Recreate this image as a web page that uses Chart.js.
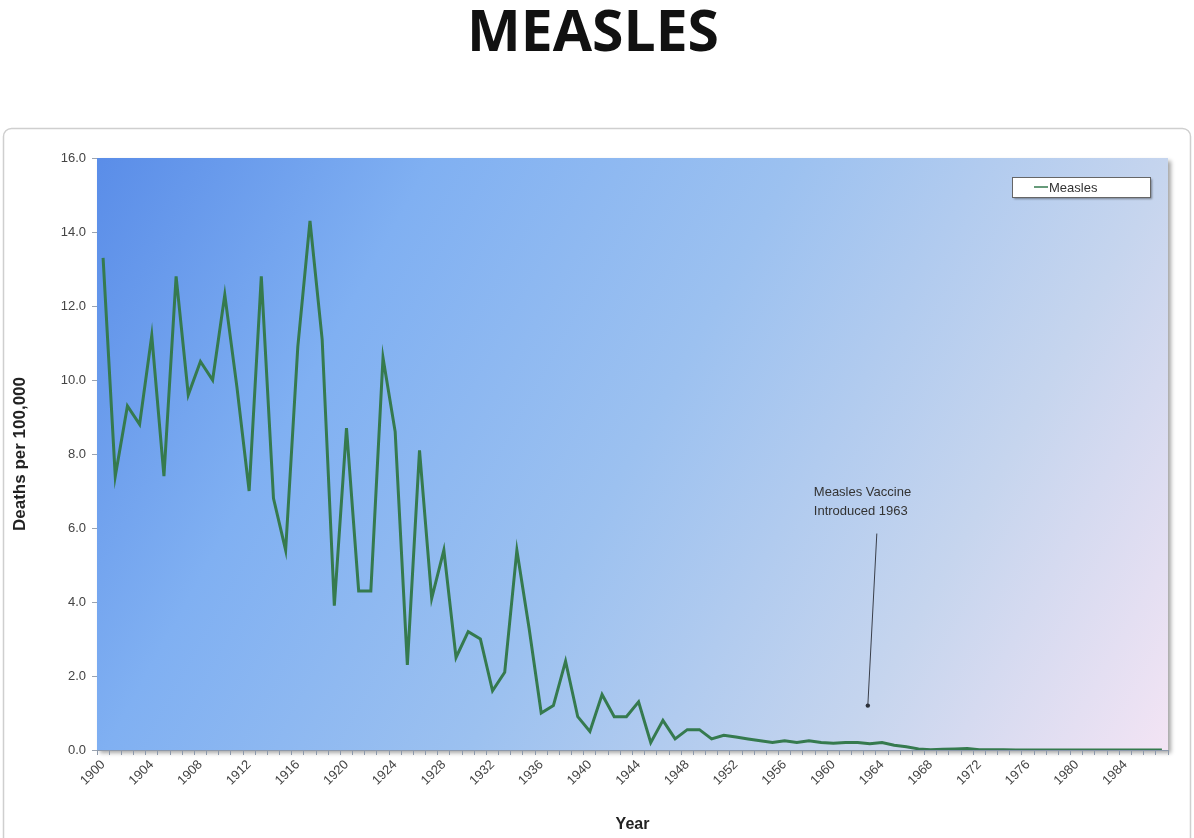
<!DOCTYPE html>
<html>
<head>
<meta charset="utf-8">
<title>Measles</title>
<script src="https://cdn.jsdelivr.net/npm/chart.js@4.4.1/dist/chart.umd.min.js"></script>
<style>
    html, body { margin: 0; padding: 0; background: #fff; }
</style>
</head>
<body>
<canvas id="measlesChart" width="1194" height="838"></canvas>
<script>
// Years on the category axis, one per data point
const YEARS = Array.from({ length: 88 }, (_, i) => String(1900 + i));

// Deaths per 100,000 (1900 - 1987)
const MEASLES_DEATHS = [
    13.3, 7.4, 9.3, 8.8, 11.2, 7.4, 12.8, 9.6, 10.5, 10.0,
    12.3, 9.8, 7.0, 12.8, 6.8, 5.4, 10.9, 14.3, 11.1, 3.9,
    8.7, 4.3, 4.3, 10.6, 8.6, 2.3, 8.1, 4.1, 5.4, 2.5,
    3.2, 3.0, 1.6, 2.1, 5.4, 3.3, 1.0, 1.2, 2.4, 0.9,
    0.5, 1.5, 0.9, 0.9, 1.3, 0.2, 0.8, 0.3, 0.55, 0.55,
    0.3, 0.4, 0.35, 0.3, 0.25, 0.2, 0.25, 0.2, 0.25, 0.2,
    0.18, 0.2, 0.2, 0.17, 0.2, 0.13, 0.09, 0.03, 0.01, 0.02,
    0.03, 0.04, 0.01, 0.01, 0.01, 0, 0, 0, 0, 0,
    0, 0, 0, 0, 0, 0, 0, 0
];

const CHART_TITLE = 'MEASLES';
const SERIES_NAME = 'Measles';
const LABEL_EVERY = 4;          // show every 4th year under the axis
const Y_MIN = 0;
const Y_MAX = 16;
const Y_STEP = 2;

// Annotation: vaccine introduction
const NOTE_YEAR = '1963';
const NOTE_LINES = ['Measles Vaccine', 'Introduced 1963'];
const NOTE_TIP_VALUE = 1.2;
const NOTE_TAIL_VALUE = 5.85;
const NOTE_TEXT_VALUE = 6.97;

const TICK_FONT = { family: '"Liberation Sans", Arial, sans-serif', size: 13 };

// Page title, frame round the chart and the gradient behind the plot area
const backdropPlugin = {
    id: 'backdrop',
    beforeDraw(chart) {
        const ctx = chart.ctx;
        const area = chart.chartArea;
        ctx.save();

        // big title above the frame
        ctx.fillStyle = '#111';
        ctx.font = 'bold 57px "Open Sans", sans-serif';
        ctx.textAlign = 'center';
        ctx.textBaseline = 'middle';
        ctx.fillText(CHART_TITLE, 593, 35);

        // outer frame
        ctx.strokeStyle = '#cfcfcf';
        ctx.lineWidth = 1.5;
        ctx.beginPath();
        ctx.roundRect(3.5, 128.5, chart.width - 7, chart.height, 8);
        ctx.stroke();

        // plot area with soft shadow
        const grad = ctx.createLinearGradient(area.left, area.top, area.right, area.bottom);
        grad.addColorStop(0, 'rgb(90,141,232)');
        grad.addColorStop(0.24, 'rgb(128,176,242)');
        grad.addColorStop(0.5, 'rgb(156,193,240)');
        grad.addColorStop(0.77, 'rgb(198,213,238)');
        grad.addColorStop(1, 'rgb(243,228,244)');
        ctx.shadowColor = 'rgba(0,0,0,0.35)';
        ctx.shadowBlur = 4;
        ctx.shadowOffsetX = 3;
        ctx.shadowOffsetY = 3;
        ctx.fillStyle = grad;
        ctx.fillRect(area.left, area.top, area.right - area.left, area.bottom - area.top);
        ctx.restore();
    }
};

// Boxed legend inside the plot, top right
const boxLegendPlugin = {
    id: 'boxLegend',
    afterDraw(chart) {
        const ctx = chart.ctx;
        const area = chart.chartArea;
        const ds = chart.data.datasets[0];
        const w = 138, h = 20;
        const x = area.right - 18 - w;
        const y = area.top + 19;
        ctx.save();
        ctx.shadowColor = 'rgba(0,0,0,0.4)';
        ctx.shadowBlur = 2;
        ctx.shadowOffsetX = 2;
        ctx.shadowOffsetY = 2;
        ctx.fillStyle = '#fff';
        ctx.fillRect(x, y, w, h);
        ctx.shadowColor = 'transparent';
        ctx.strokeStyle = '#666';
        ctx.lineWidth = 1;
        ctx.strokeRect(x + 0.5, y + 0.5, w, h);

        ctx.strokeStyle = ds.borderColor;
        ctx.lineWidth = 1.5;
        ctx.beginPath();
        ctx.moveTo(x + 22, y + h / 2);
        ctx.lineTo(x + 36, y + h / 2);
        ctx.stroke();

        ctx.fillStyle = '#333';
        ctx.font = '13px "Liberation Sans", Arial, sans-serif';
        ctx.textBaseline = 'middle';
        ctx.fillText(ds.label, x + 37, y + h / 2 + 1);
        ctx.restore();
    }
};

// Text and arrow pointing at the vaccine year
const notePlugin = {
    id: 'vaccineNote',
    afterDatasetsDraw(chart) {
        const ctx = chart.ctx;
        const xs = chart.scales.x;
        const ys = chart.scales.y;
        const xi = xs.getPixelForValue(YEARS.indexOf(NOTE_YEAR));
        const tipX = xi - 2;
        const tipY = ys.getPixelForValue(NOTE_TIP_VALUE);
        const tailX = xi + 7;
        const tailY = ys.getPixelForValue(NOTE_TAIL_VALUE);
        ctx.save();
        ctx.strokeStyle = '#3a3f4a';
        ctx.lineWidth = 1;
        ctx.beginPath();
        ctx.moveTo(tailX, tailY);
        ctx.lineTo(tipX, tipY);
        ctx.stroke();
        ctx.fillStyle = '#2c313a';
        ctx.beginPath();
        ctx.arc(tipX, tipY, 2.2, 0, Math.PI * 2);
        ctx.fill();

        ctx.fillStyle = '#333';
        ctx.font = '13px "Liberation Sans", Arial, sans-serif';
        ctx.textBaseline = 'middle';
        const textY = ys.getPixelForValue(NOTE_TEXT_VALUE);
        NOTE_LINES.forEach((line, i) => {
            ctx.fillText(line, xi - 56, textY + i * 19);
        });
        ctx.restore();
    }
};

const ctx = document.getElementById('measlesChart');
const measlesChart = new Chart(ctx, {
    type: 'line',
    data: {
        labels: YEARS,
        datasets: [{
            label: SERIES_NAME,
            data: MEASLES_DEATHS,
            borderColor: '#357a4e',
            borderWidth: 3,
            pointRadius: 0,
            tension: 0,
            fill: false
        }]
    },
    options: {
        responsive: false,
        animation: false,
        layout: { padding: { left: 0, right: 26, top: 158, bottom: 0 } },
        plugins: {
            legend: { display: false },
            tooltip: { enabled: false },
            title: { display: false }
        },
        scales: {
            x: {
                offset: true,
                grid: { offset: true, drawOnChartArea: false, tickLength: 5, color: '#8c98aa' },
                border: { display: true, color: '#8c98aa' },
                ticks: {
                    autoSkip: false,
                    minRotation: 45,
                    maxRotation: 45,
                    padding: 2,
                    color: '#444',
                    font: TICK_FONT,
                    callback: function (value, index) {
                        return index % LABEL_EVERY === 0 ? this.getLabelForValue(value) : '';
                    }
                },
                title: {
                    display: true,
                    text: 'Year',
                    color: '#222',
                    font: { family: '"Liberation Sans", Arial, sans-serif', size: 16, weight: 'bold' },
                    padding: { top: 2, bottom: 4 }
                },
                afterFit: (scale) => { scale.height = 88; }
            },
            y: {
                min: Y_MIN,
                max: Y_MAX,
                grid: { drawOnChartArea: false, tickLength: 5, color: '#9aa3b0' },
                border: { display: false },
                ticks: {
                    stepSize: Y_STEP,
                    padding: 6,
                    color: '#444',
                    font: TICK_FONT,
                    callback: (v) => v.toFixed(1)
                },
                title: {
                    display: true,
                    text: 'Deaths per 100,000',
                    color: '#222',
                    font: { family: '"Liberation Sans", Arial, sans-serif', size: 17, weight: 'bold' },
                    padding: { top: 10, bottom: 0 }
                },
                afterFit: (scale) => { scale.width = 97; }
            }
        }
    },
    plugins: [backdropPlugin, boxLegendPlugin, notePlugin]
});
</script>
</body>
</html>
